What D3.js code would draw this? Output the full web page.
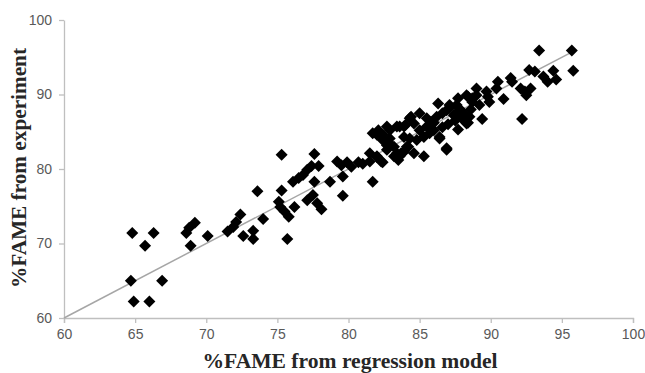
<!DOCTYPE html>
<html>
<head>
<meta charset="utf-8">
<script src="https://cdn.jsdelivr.net/npm/d3@7"></script>
<style>
  html, body { margin: 0; padding: 0; background: #fff; }
</style>
</head>
<body>
<div id="chart"></div>
<script>
// %FAME predicted by regression model (x) vs. measured in experiment (y)
const modelFame = [
  64.8, 66.3, 65.7, 64.7, 66.9, 64.9, 66.0,
  68.6, 68.8, 69.2, 68.9, 70.1,
  71.5, 71.9, 72.1, 72.4, 72.6, 73.3, 73.3, 74.0, 73.6,
  75.3, 75.3, 75.1, 75.2, 75.5, 75.8, 75.7, 76.2, 76.1, 76.5, 76.8, 77.1, 77.4, 77.9,
  77.6, 77.6, 77.1, 77.5, 77.8, 78.1, 78.7, 79.6, 79.6,
  79.2, 79.5, 79.9, 80.2, 80.7, 81.0, 81.5, 82.0, 82.4, 81.7,
  82.0, 82.4, 82.7, 82.7, 82.9, 82.1, 81.7, 82.4,
  83.2, 83.4, 83.6, 83.9, 84.2, 83.6, 84.0, 84.3, 84.6,
  85.0, 85.5, 85.8, 86.2, 86.6, 86.9, 87.4, 87.7, 88.0, 88.3, 88.5,
  83.4, 82.9, 85.0, 85.5, 86.0, 83.9, 82.9, 82.7, 84.1,
  84.4, 83.9, 86.3, 87.1, 87.7, 88.3, 88.7, 89.0,
  81.5, 82.0, 82.3, 83.2, 83.5, 83.7, 84.6, 85.3, 86.9, 86.4,
  84.3, 84.8, 85.3, 85.7,
  93.4, 95.7, 95.8, 92.7, 93.1, 93.7, 94.0, 94.4, 94.6, 91.4, 91.5,
  90.5, 90.4, 92.1, 92.4, 92.8, 92.5, 90.9, 92.2, 89.4,
  89.0, 89.7, 89.8, 89.9, 88.4, 88.7, 89.2, 87.6, 87.1, 87.8, 87.6, 87.9, 87.5, 87.7,
  86.4, 86.9, 88.0, 88.2, 88.4, 87.0, 86.6, 86.0, 88.6, 88.1
];

const expFame = [
  71.4, 71.4, 69.7, 65.0, 65.0, 62.2, 62.2,
  71.4, 72.1, 72.8, 69.7, 71.0,
  71.6, 72.2, 72.9, 73.9, 71.0, 71.7, 70.6, 73.3, 77.0,
  81.9, 77.1, 75.6, 74.9, 74.3, 73.6, 70.6, 74.9, 78.3, 78.8, 79.2, 79.9, 80.4, 80.4,
  82.0, 78.3, 75.8, 76.5, 75.4, 74.6, 78.3, 79.0, 76.4,
  81.0, 80.5, 80.9, 80.3, 80.9, 80.7, 81.0, 81.6, 80.9, 78.3,
  84.6, 83.9, 83.2, 85.7, 84.1, 85.2, 84.8, 84.6,
  83.0, 82.1, 81.7, 82.3, 83.0, 85.7, 85.9, 86.8, 86.1,
  87.5, 86.8, 86.3, 87.0, 87.5, 87.9, 87.2, 87.7, 86.8, 86.1, 87.0,
  85.7, 85.2, 85.2, 85.7, 85.2, 84.3, 83.4, 82.6, 83.0,
  87.0, 85.7, 88.8, 88.6, 89.5, 89.9, 89.5, 89.9,
  82.1, 81.7, 81.0, 81.7, 81.2, 82.1, 82.1, 81.7, 82.6, 84.1,
  84.1, 83.9, 84.3, 84.8,
  95.9, 95.9, 93.2, 93.3, 93.1, 92.4, 91.7, 93.2, 92.0, 92.2, 91.7,
  91.7, 90.8, 90.8, 90.4, 90.8, 89.9, 89.4, 86.7, 86.7,
  90.8, 90.4, 89.7, 89.0, 89.7, 89.0, 88.6, 88.6, 88.2, 88.1, 87.4, 86.9, 86.5, 85.3,
  84.3, 82.8, 87.6, 87.0, 86.2, 86.0, 85.6, 86.2, 88.0, 87.5
];

const xTicks = [60, 65, 70, 75, 80, 85, 90, 95, 100];
const yTicks = [60, 70, 80, 90, 100];
const fitLine = [60, 95.8];   // y = x reference line

const W = 645, H = 373;
const margin = { left: 64, right: 12, top: 20, bottom: 55 };

const svg = d3.select("#chart").append("svg")
  .attr("width", W)
  .attr("height", H);

const x = d3.scaleLinear().domain([60, 100]).range([margin.left, W - margin.right]);
const y = d3.scaleLinear().domain([60, 100]).range([H - margin.bottom, margin.top]);

const axisColor = "#bfbfbf";
const labelColor = "#595959";

// axes
const gx = svg.append("g")
  .attr("transform", `translate(0,${H - margin.bottom})`)
  .call(d3.axisBottom(x).tickValues(xTicks).tickSize(5).tickSizeOuter(5).tickPadding(6));

const gy = svg.append("g")
  .attr("transform", `translate(${margin.left},0)`)
  .call(d3.axisLeft(y).tickValues(yTicks).tickSize(5).tickSizeOuter(0).tickPadding(7));

[gx, gy].forEach(g => {
  g.select(".domain").attr("stroke", axisColor).attr("stroke-width", 1.3);
  g.selectAll(".tick line").attr("stroke", axisColor).attr("stroke-width", 1.3);
  g.selectAll(".tick text")
   .attr("fill", labelColor)
   .attr("font-family", "'Liberation Sans', Arial, sans-serif")
   .attr("font-size", 14);
});

// reference line
svg.append("line")
   .attr("x1", x(fitLine[0]))
   .attr("y1", y(fitLine[0]))
   .attr("x2", x(fitLine[1]))
   .attr("y2", y(fitLine[1]))
   .attr("stroke", "#a6a6a6")
   .attr("stroke-width", 1.5);

// diamond markers
const r = 6;
svg.append("g")
  .selectAll("path")
  .data(modelFame.map((v, i) => [v, expFame[i]]))
  .join("path")
    .attr("transform", d => `translate(${x(d[0])},${y(d[1])})`)
    .attr("d", `M0,${-r}L${r},0L0,${r}L${-r},0Z`)
    .attr("fill", "#000");

// axis titles
svg.append("text")
   .attr("x", 350)
   .attr("y", 368)
   .attr("text-anchor", "middle")
   .attr("font-family", "'Liberation Serif', 'Times New Roman', serif")
   .attr("font-weight", "bold")
   .attr("font-size", 20)
   .attr("textLength", 295)
   .attr("lengthAdjust", "spacingAndGlyphs")
   .attr("fill", "#262626")
   .text("%FAME from regression model");

svg.append("text")
   .attr("transform", "translate(26,168) rotate(-90)")
   .attr("text-anchor", "middle")
   .attr("font-family", "'Liberation Serif', 'Times New Roman', serif")
   .attr("font-weight", "bold")
   .attr("font-size", 20)
   .attr("textLength", 240)
   .attr("lengthAdjust", "spacingAndGlyphs")
   .attr("fill", "#262626")
   .text("%FAME from experiment");
</script>
</body>
</html>
